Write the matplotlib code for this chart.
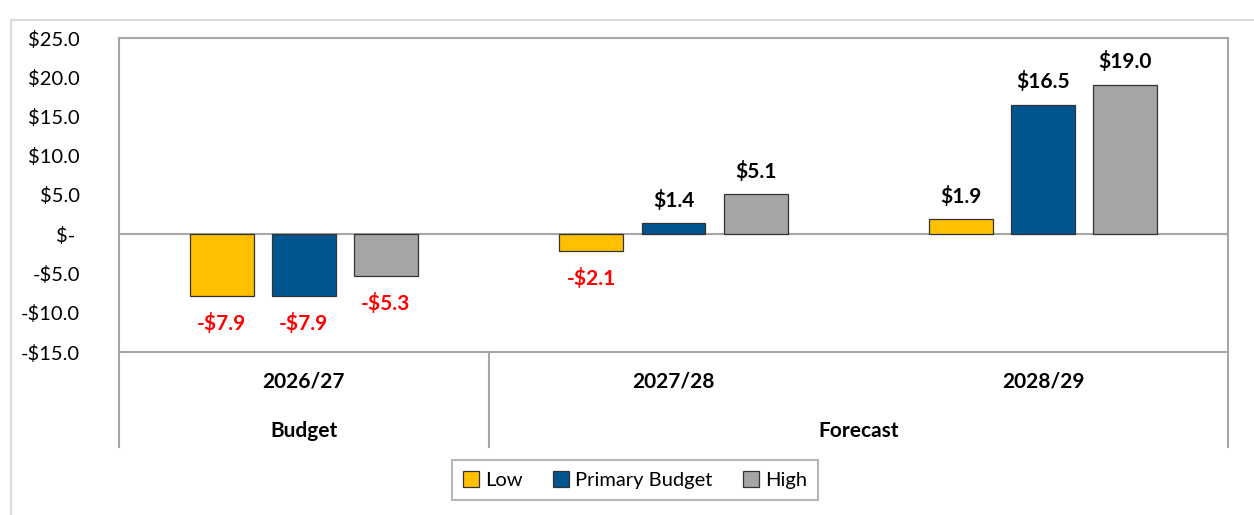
import matplotlib
matplotlib.use("Agg")
import matplotlib.pyplot as plt
from matplotlib.patches import Rectangle, Patch
import numpy as np

plt.rcParams['font.family'] = ['Lato', 'DejaVu Sans']

# Data
years = ["2026/27", "2027/28", "2028/29"]
groups = ["Budget", "Forecast"]
group_spans = [(0, 1), (1, 3)]  # category index ranges
series_names = ["Low", "Primary Budget", "High"]
low = [-7.9, -2.1, 1.9]
primary = [-7.9, 1.4, 16.5]
high = [-5.3, 5.1, 19.0]
yticks = [-15, -10, -5, 0, 5, 10, 15, 20, 25]
ytick_labels = ["-$15.0", "-$10.0", "-$5.0", "$- ", "$5.0", "$10.0", "$15.0", "$20.0", "$25.0"]

colors = ["#FFC000", "#00558F", "#A5A5A5"]
axis_gray = "#A6A6A6"

W, H = 1254, 515
fig = plt.figure(figsize=(W / 100, H / 100), dpi=100)
L, R, T, B = 119, 1228, 38, 352
ax = fig.add_axes([L / W, 1 - B / H, (R - L) / W, (B - T) / H])

# Outer chart frame (partially visible)
fig.add_artist(Rectangle((11 / W, -0.1), 1.2, (1 - 20 / H) + 0.1, transform=fig.transFigure,
                         fill=False, edgecolor="#D9D9D9", linewidth=1.5))

x = np.arange(len(years))
width = 0.173
offset = 0.222
data = [low, primary, high]
fs_lab = 15
fs_tick = 14.5
for i, (vals, c, name) in enumerate(zip(data, colors, series_names)):
    xs = x + (i - 1) * offset
    ax.bar(xs, vals, width=width, color=c, edgecolor="#333333", linewidth=0.9,
           label=name, zorder=3)
    for xi, v in zip(xs, vals):
        if v >= 0:
            ax.annotate(f"${v:.1f}", (xi, v), xytext=(0, 12), textcoords="offset points",
                        ha="center", va="baseline", fontsize=fs_lab, fontweight="bold",
                        color="black")
        else:
            ax.annotate(f"-${abs(v):.1f}", (xi, v), xytext=(0, -24.5), textcoords="offset points",
                        ha="center", va="baseline", fontsize=fs_lab, fontweight="bold",
                        color="#FF0000")

ax.set_xlim(-0.5, len(years) - 0.5)
ax.set_ylim(-15, 25)
ax.set_yticks(yticks)
ax.set_yticklabels(ytick_labels, fontsize=fs_tick)
ax.tick_params(axis="y", length=0, pad=28)
ax.set_xticks([])
ax.axhline(0, color=axis_gray, linewidth=1.5, zorder=2)
for s in ax.spines.values():
    s.set_color(axis_gray)
    s.set_linewidth(1.5)

# Multi-level category axis
row_bottom = -(447 - B) / (B - T)  # axes fraction
row1_y = -(381 - B) / (B - T)
row2_y = -(431 - B) / (B - T)
sep_positions = [0.0, 1 / 3, 1.0]
for sp in sep_positions:
    ax.plot([sp, sp], [0, row_bottom], transform=ax.transAxes, color=axis_gray,
            linewidth=1.5, clip_on=False)
for xi, yr in zip(x, years):
    ax.text(xi, row1_y, yr, transform=ax.get_xaxis_transform(), ha="center", va="center",
            fontsize=fs_lab, fontweight="bold")
for g, (a, b) in zip(groups, group_spans):
    ax.text((a + b - 1) / 2, row2_y, g, transform=ax.get_xaxis_transform(), ha="center",
            va="center", fontsize=fs_lab, fontweight="bold")

handles = [Patch(facecolor=c, edgecolor="#333333", linewidth=0.9) for c in colors]
leg = fig.legend(handles, series_names, loc="center", bbox_to_anchor=(635 / W, 1 - 480 / H),
                 ncol=3, frameon=True, fancybox=False, edgecolor=axis_gray, fontsize=fs_tick,
                 handlelength=0.8, handleheight=0.8, handletextpad=0.3, columnspacing=1.5,
                 borderpad=0.55, borderaxespad=0)
leg.get_frame().set_linewidth(1.5)

fig.savefig("out.png", dpi=100)
